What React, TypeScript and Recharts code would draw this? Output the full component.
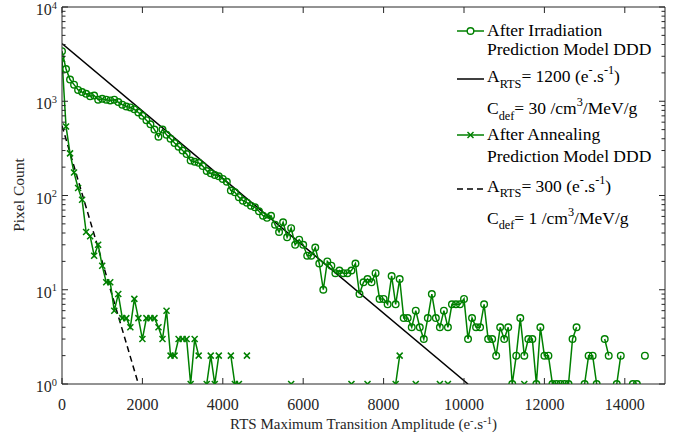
import React from 'react';
import { LineChart, Line, XAxis, YAxis, ReferenceLine, Legend } from 'recharts';

const _ = null;
const BIN_WIDTH = 100;

// pixel counts per 100 e-/s bin, null = empty bin (not drawable on a log axis)
const afterIrradiation = [
  3400, 2200, 1700, 1500, 1320, 1250, 1200, 1130, 1150, 1040,
  1060, 1040, 1020, 1040, 980, 920, 880, 860, 820, 760,
  700, 630, 570, 500, 420, 500, 440, 400, 360, 330,
  300, 275, 235, 228, 222, 205, 182, 172, 165, 160,
  150, 140, 113, 108, 96, 88, 84, 78, 75, 68,
  61, 58, 61, 49, 41, 52, 36, 45, 30, 34,
  30, 23, 23, 28, 19, 10, 20, 18, 15, 16,
  15, 15, 16, 19, 9, 12, 13, 12, 15, 8,
  8, 7, 14, 7, 13, 5, 5, 4, 6, 4,
  3, 5, 9, 5, 4, 6, 4, 7, 7, 7,
  8, 3, 5, 4, 4, 7, 3, 3, 2, 4,
  3, 4, 1, 2, 5, 2, 3, 3, 1, 4,
  2, 2, 1, 1, 1, 1, 1, 3, 4, _,
  1, 2, 2, 1, _, 3, 2, _, 1, 2,
  _, _, 1, 1, _, 2, _, _, _, _,
];

const afterAnnealing = [
  2800, 540, 280, 175, 120, 90, 41, 37, 23, 30,
  18, 12, 12, 6, 9, 5, 5, 4, 8, 5,
  3, 5, 5, 5, 4, 3, 6, 2, 2, 3,
  3, 3, 1, 3, 2, _, 1, 2, 1, 2,
  _, _, 2, 1, 1, _, 2, _, _, _,
  _, _, _, _, _, _, _, 1, _, _,
  _, _, _, _, _, _, _, _, _, _,
  _, _, 1, _, _, _, 1, _, _, _,
  _, _, _, 1, 2, _, _, _, 1, _,
  _, _, _, _, 1, _, 1, _, _, _,
  _, _, _, _, _, _, _, _, _, _,
  _, _, _, _, _, 1, _, _, _, _,
  _, _, _, _, _, _, _, _, _, _,
  _, _, _, _, _, _, _, _, _, _,
  _, _, _, _, _, _, _, _, _, _,
];

// DDD prediction model, straight lines on the log axis
const modelIrrAmp = [0, 10100];
const modelIrrCount = [4100, 1];
const modelAnnAmp = [0, 1900];
const modelAnnCount = [550, 1];

const xTicks = [0, 2000, 4000, 6000, 8000, 10000, 12000, 14000];
const yDecades = [1, 10, 100, 1000, 10000];
const yExponents = ['0', '1', '2', '3', '4'];
const yMinorSteps = [2, 3, 4, 5, 6, 7, 8, 9];

const binned = (counts: (number | null)[]) => counts.map((count, i) => ({ amp: i * BIN_WIDTH, count }));
const paired = (amp: number[], count: number[]) => amp.map((a, i) => ({ amp: a, count: count[i] }));

const irrData = binned(afterIrradiation);
const annData = binned(afterAnnealing);
const irrModel = paired(modelIrrAmp, modelIrrCount);
const annModel = paired(modelAnnAmp, modelAnnCount);
const yTicks = [...yDecades, ...yDecades.slice(0, -1).flatMap((d) => yMinorSteps.map((m) => d * m))];

const GREEN = '#008000';
const AXIS = '#262626';
const SERIF = '"Liberation Serif", "Times New Roman", serif';
const PLOT = { left: 62, right: 665, top: 7, bottom: 384 };

type Seg = [string, ('sub' | 'sup')?];

function RichText({ x, y, segs, size = 16, anchor = 'start', transform, fill = AXIS, supShift = 0.44, supScale = 0.7 }: any) {
  let level = 0;
  return (
    <text x={x} y={y} fontSize={size} fontFamily={SERIF} fill={fill} textAnchor={anchor} transform={transform}>
      {(segs as Seg[]).map(([t, kind], i) => {
        const target = kind === 'sup' ? -supShift * size : kind === 'sub' ? 0.32 * size : 0;
        const dy = target - level;
        level = target;
        return (
          <tspan key={i} dy={dy} fontSize={kind ? size * supScale : size}>
            {t}
          </tspan>
        );
      })}
    </text>
  );
}

function CircleDot(props: any) {
  const { cx, cy, index } = props;
  if (cy == null || props.value == null || isNaN(cy)) return <g key={index} />;
  return <circle key={index} cx={cx} cy={cy} r={3.3} fill="none" stroke={GREEN} strokeWidth={1.4} />;
}

function CrossDot(props: any) {
  const { cx, cy, index } = props;
  if (cy == null || props.value == null || isNaN(cy)) return <g key={index} />;
  const s = 3;
  return (
    <g key={index} stroke={GREEN} strokeWidth={1.5}>
      <line x1={cx - s} y1={cy - s} x2={cx + s} y2={cy + s} />
      <line x1={cx - s} y1={cy + s} x2={cx + s} y2={cy - s} />
    </g>
  );
}

function XTick({ x, payload }: any) {
  return (
    <g>
      <line x1={x} x2={x} y1={PLOT.bottom} y2={PLOT.bottom - 6} stroke={AXIS} />
      <line x1={x} x2={x} y1={PLOT.top} y2={PLOT.top + 6} stroke={AXIS} />
      <text x={x} y={PLOT.bottom + 26} textAnchor="middle" fontSize={16} fontFamily={SERIF} fill={AXIS}>
        {payload.value}
      </text>
    </g>
  );
}

function YTick({ y, payload }: any) {
  const i = yDecades.indexOf(payload.value);
  const len = i >= 0 ? 6 : 3.5;
  return (
    <g>
      <line x1={PLOT.left} x2={PLOT.left + len} y1={y} y2={y} stroke={AXIS} />
      <line x1={PLOT.right - len} x2={PLOT.right} y1={y} y2={y} stroke={AXIS} />
      {i >= 0 && (
        <RichText
          x={PLOT.left - 5}
          y={y + 8}
          anchor="end"
          supShift={0.4}
          supScale={0.65}
          segs={[['10'], [yExponents[i], 'sup']]}
        />
      )}
    </g>
  );
}

const LEG = 17.5;

function LegendBox() {
  const x0 = 457;
  const x1 = 484;
  const tx = 487;
  const mx = (x0 + x1) / 2;
  return (
    <svg width={689} height={445} style={{ overflow: 'visible' }}>
      <line x1={x0} x2={x1} y1={31} y2={31} stroke={GREEN} strokeWidth={1.5} />
      <circle cx={mx} cy={31} r={3.3} fill="white" stroke={GREEN} strokeWidth={1.4} />
      <RichText size={LEG} fill="#000" x={tx} y={36} segs={[['After Irradiation']]} />
      <RichText size={LEG} fill="#000" x={tx} y={55} segs={[['Prediction Model DDD']]} />
      <line x1={x0} x2={x1} y1={79} y2={79} stroke="#000" strokeWidth={1.5} />
      <RichText size={LEG} fill="#000" x={tx} y={82} segs={[['A'], ['RTS', 'sub'], ['= 1200 (e'], ['-', 'sup'], ['.s'], ['-1', 'sup'], [')']]} />
      <RichText size={LEG} fill="#000" x={tx} y={114} segs={[['C'], ['def', 'sub'], ['= 30 /cm'], ['3', 'sup'], ['/MeV/g']]} />
      <line x1={x0} x2={x1} y1={135} y2={135} stroke={GREEN} strokeWidth={1.5} />
      <g stroke={GREEN} strokeWidth={1.5}>
        <line x1={mx - 3} y1={132} x2={mx + 3} y2={138} />
        <line x1={mx - 3} y1={138} x2={mx + 3} y2={132} />
      </g>
      <RichText size={LEG} fill="#000" x={tx} y={139.5} segs={[['After Annealing']]} />
      <RichText size={LEG} fill="#000" x={tx} y={161.5} segs={[['Prediction Model DDD']]} />
      <line x1={x0} x2={x1} y1={189} y2={189} stroke="#000" strokeWidth={1.5} strokeDasharray="6 4" />
      <RichText size={LEG} fill="#000" x={tx} y={191.5} segs={[['A'], ['RTS', 'sub'], ['= 300 (e'], ['-', 'sup'], ['.s'], ['-1', 'sup'], [')']]} />
      <RichText size={LEG} fill="#000" x={tx} y={223.5} segs={[['C'], ['def', 'sub'], ['= 1 /cm'], ['3', 'sup'], ['/MeV/g']]} />
    </svg>
  );
}

export default function App() {
  return (
    <div style={{ position: 'absolute', left: 0, top: 0, width: 689, height: 445, background: '#fff' }}>
      <LineChart width={689} height={445} margin={{ top: 7, right: 24, bottom: 0, left: 0 }}>
        <XAxis
          dataKey="amp"
          type="number"
          domain={[0, 15000]}
          ticks={xTicks}
          interval={0}
          height={61}
          tickLine={false}
          axisLine={{ stroke: AXIS }}
          tick={XTick}
          allowDataOverflow
          label={{
            content: () => (
              <RichText
                x={(PLOT.left + PLOT.right) / 2}
                y={429}
                size={15}
                anchor="middle"
                supShift={0.36}
                segs={[['RTS Maximum Transition Amplitude (e'], ['-', 'sup'], ['.s'], ['-1', 'sup'], [')']]}
              />
            ),
          }}
        />
        <YAxis
          type="number"
          scale="log"
          domain={[1, 10000]}
          ticks={yTicks}
          interval={0}
          width={62}
          tickLine={false}
          axisLine={{ stroke: AXIS }}
          tick={YTick}
          allowDataOverflow
          label={{
            content: () => (
              <RichText x={24} y={195} size={15.5} anchor="middle" transform="rotate(-90 24 195)" segs={[['Pixel Count']]} />
            ),
          }}
        />
        <ReferenceLine y={10000} stroke={AXIS} />
        <ReferenceLine x={15000} stroke={AXIS} />
        <Legend
          layout="vertical"
          align="center"
          verticalAlign="middle"
          wrapperStyle={{ left: 0, top: 0, width: 689, height: 445, pointerEvents: 'none' }}
          content={() => <LegendBox />}
        />
        <Line
          data={irrModel}
          dataKey="count"
          stroke="#000"
          strokeWidth={1.5}
          dot={false}
          activeDot={false}
          isAnimationActive={false}
        />
        <Line
          data={annModel}
          dataKey="count"
          stroke="#000"
          strokeWidth={1.5}
          strokeDasharray="6 4"
          dot={false}
          activeDot={false}
          isAnimationActive={false}
        />
        <Line
          data={irrData}
          dataKey="count"
          stroke={GREEN}
          strokeWidth={1.5}
          dot={CircleDot}
          activeDot={false}
          isAnimationActive={false}
        />
        <Line
          data={annData}
          dataKey="count"
          stroke={GREEN}
          strokeWidth={1.5}
          dot={CrossDot}
          activeDot={false}
          isAnimationActive={false}
        />
      </LineChart>
    </div>
  );
}
